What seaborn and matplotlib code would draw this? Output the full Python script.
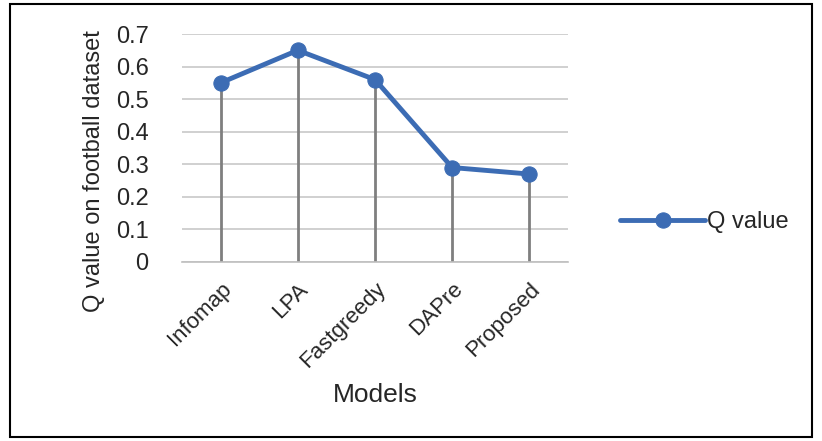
import numpy as np
import seaborn as sns
import matplotlib.pyplot as plt
import pandas as pd
from matplotlib.patches import Rectangle

models = ["Infomap", "LPA", "Fastgreedy", "DAPre", "Proposed"]
q_values = [0.55, 0.65, 0.56, 0.29, 0.27]
y_ticks = [0, 0.1, 0.2, 0.3, 0.4, 0.5, 0.6, 0.7]

df = pd.DataFrame({"Models": models, "Q value": q_values})
df["pos"] = np.arange(len(models))

sns.set_style("white")
plt.rcParams['font.family'] = ['Liberation Sans', 'DejaVu Sans']

fig = plt.figure(figsize=(8.22, 4.41), dpi=100)
ax = fig.add_axes([0.2214, 0.4059, 0.4696, 0.517])

blue = "#3C6CB4"

# drop lines from each point to zero
ax.vlines(df["pos"], 0, df["Q value"], color="#7F7F7F", lw=2, zorder=2)

sns.lineplot(data=df, x="pos", y="Q value", ax=ax, color=blue, lw=3.5,
             marker="o", markersize=11, markeredgecolor=blue,
             markerfacecolor=blue, label="Q value", zorder=3)

ax.set_xlim(-0.5, len(models) - 0.5)
ax.set_ylim(0, 0.7)
ax.set_yticks(y_ticks)
ax.set_yticklabels(["0", "0.1", "0.2", "0.3", "0.4", "0.5", "0.6", "0.7"])
ax.yaxis.grid(True, color="#C8C8C8", lw=1.2)
ax.set_axisbelow(True)
ax.set_xticks(df["pos"])
ax.set_xticklabels(models, rotation=45, ha="right", rotation_mode="anchor",
                   fontsize=16)
ax.tick_params(axis="y", labelsize=17, length=0, pad=24)
ax.tick_params(axis="x", length=0, pad=12)
for s in ["top", "right", "left"]:
    ax.spines[s].set_visible(False)
ax.spines["bottom"].set_color("#BFBFBF")
ax.spines["bottom"].set_linewidth(1.2)

ax.set_xlabel("Models", fontsize=19)
ax.xaxis.set_label_coords(0.5, -0.53)
ax.set_ylabel("Q value on football dataset", fontsize=17)
ax.yaxis.set_label_coords(-0.2, 0.40)

ax.legend(loc="center left", bbox_to_anchor=(1.08, 0.175), frameon=False,
          fontsize=17, handlelength=3.6, handletextpad=0.1)

# outer frame
fig.patches.append(Rectangle((10 / 822, 4 / 441), 802 / 822, 433 / 441,
                             transform=fig.transFigure, fill=False,
                             edgecolor="black", lw=1.5))

fig.savefig("out.png", dpi=100)
